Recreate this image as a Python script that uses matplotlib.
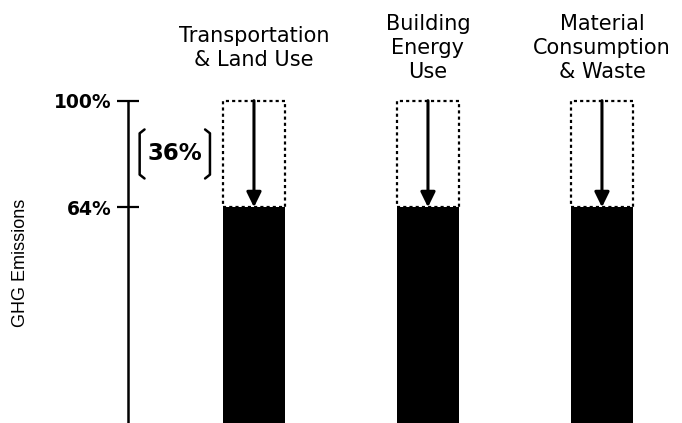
import matplotlib.pyplot as plt

# Emission reduction per sector, in % of baseline GHG emissions
SECTORS = ["Transportation\n& Land Use", "Building\nEnergy\nUse", "Material\nConsumption\n& Waste"]
BASELINE = [100, 100, 100]
REDUCED = [64, 64, 64]
TICK_VALUES = [100, 64]
TICK_LABELS = ["100%", "64%"]

Y_MIN, Y_MAX = -8.9, 112
BAR_W = 0.36

fig = plt.figure(figsize=(6.82, 4.23), dpi=100)
ax = fig.add_axes([128 / 682, 0, 1 - 128 / 682, 0.8459])
xs = list(range(len(SECTORS)))

# remaining emissions (solid) and the cut portion (dotted outline)
ax.bar(xs, [r - Y_MIN for r in REDUCED], bottom=Y_MIN, width=BAR_W, color="black", zorder=2)
ax.bar(xs, [b - r for b, r in zip(BASELINE, REDUCED)], bottom=REDUCED, width=BAR_W,
       fill=False, edgecolor="black", linewidth=1.6, linestyle=(0, (1.4, 1.4)), zorder=1)

for x, b, r in zip(xs, BASELINE, REDUCED):
    ax.annotate("", xy=(x, r), xytext=(x, b),
                arrowprops=dict(arrowstyle="-|>,head_length=0.45,head_width=0.22",
                                color="black", lw=2.2, mutation_scale=20,
                                shrinkA=0, shrinkB=0), zorder=3)

for x, label in zip(xs, SECTORS):
    ax.text(x, 117.8, label, ha="center", va="center", multialignment="center",
            fontsize=15, linespacing=1.22, clip_on=False)

# bracket showing the size of the cut
top, low = BASELINE[0], REDUCED[0]
mid = (top + low) / 2
half = 0.23 * (top - low)
cut = top - low
lx, rx, hook = -0.657, -0.253, 0.028
for x0, d in [(lx, hook), (rx, -hook)]:
    ax.plot([x0 + d, x0, x0, x0 + d], [mid + half, mid + half - 1.3, mid - half + 1.3, mid - half],
            color="black", lw=1.8, solid_joinstyle="round", solid_capstyle="round", clip_on=False)
ax.text((lx + rx) / 2, mid, f"{cut:.0f}%", ha="center", va="center",
        fontsize=16.5, fontweight="bold")

ax.set_xlim(-0.724, 2.46)
ax.set_ylim(Y_MIN, Y_MAX)
for side in ["top", "right", "bottom"]:
    ax.spines[side].set_visible(False)
ax.spines["left"].set_bounds(Y_MIN, 100)
ax.spines["left"].set_linewidth(1.8)
ax.set_xticks([])
ax.set_yticks(TICK_VALUES)
ax.set_yticklabels(TICK_LABELS, fontsize=13.5, fontweight="bold")
ax.tick_params(axis="y", direction="inout", length=16, width=1.6, pad=4)

fig.text(21 / 682, 1 - 263 / 423, "GHG Emissions", rotation=90, ha="center", va="center",
         fontsize=13, family="Liberation Sans")

fig.savefig("out.png", dpi=100)
